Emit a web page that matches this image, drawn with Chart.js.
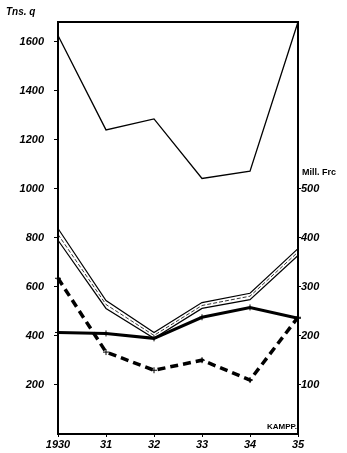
<!DOCTYPE html>
<html>
<head>
<meta charset="utf-8">
<script src="https://cdn.jsdelivr.net/npm/chart.js@4.4.1/dist/chart.umd.min.js"></script>
<style>
html,body{margin:0;padding:0;background:#fff;}
#wrap{width:347px;height:453px;position:relative;}
</style>
</head>
<body>
<div id="wrap"><canvas id="c" width="347" height="453"></canvas></div>
<script>
// ---- data ----
const years = ['1930', '31', '32', '33', '34', '35'];
const leftTicks = [200, 400, 600, 800, 1000, 1200, 1400, 1600];   // Tns. q
const rightTicks = [100, 200, 300, 400, 500];                      // Mill. Frc
// thin line (Tns. q)
const quantityThin = [1625, 1240, 1285, 1042, 1072, 1680];
// thick dashed line (Tns. q)
const quantityDashed = [635, 334, 260, 301, 220, 476];
// double band (Mill. Frc): upper edge, middle dashed, lower edge
const valueBandUpper = [419, 272, 207, 268, 287, 378];
const valueBandMid = [407, 264, 201, 262, 281, 371];
const valueBandLower = [395, 256, 195, 256, 274, 364];
// thick solid line (Mill. Frc)
const valueThick = [207, 205, 195, 238, 258, 236];

const leftMax = 1680;
const rightMax = leftMax / 2;

const tickFont = {family: 'Liberation Sans', size: 11, style: 'italic', weight: 'bold'};

const framePlugin = {
  id: 'frame',
  afterDraw(chart) {
    const {ctx, chartArea: a} = chart;
    ctx.save();
    ctx.strokeStyle = '#000';
    ctx.lineWidth = 2;
    ctx.strokeRect(a.left, a.top, a.right - a.left, a.bottom - a.top);
    ctx.fillStyle = '#000';
    ctx.font = 'italic bold 10px "Liberation Sans"';
    ctx.textBaseline = 'middle';
    ctx.textAlign = 'left';
    ctx.fillText('Tns. q', 6, 12);
    ctx.font = 'bold 9px "Liberation Sans"';
    ctx.fillText('Mill. Frc', 302, 173);
    ctx.textAlign = 'right';
    ctx.font = 'bold 8px "Liberation Sans"';
    ctx.fillText('KAMPP.', a.right - 1, a.bottom - 7);
    ctx.restore();
  }
};

const crossPts = {pointStyle: 'cross', pointRadius: 3, pointBorderWidth: 1, pointBorderColor: '#000'};

new Chart(document.getElementById('c'), {
  type: 'line',
  data: {
    labels: years,
    datasets: [
      {data: quantityThin, yAxisID: 'y', borderColor: '#000', borderWidth: 1.3, pointRadius: 0, tension: 0},
      {data: valueBandUpper, yAxisID: 'y1', borderColor: '#000', borderWidth: 1.2, pointRadius: 0, tension: 0},
      {data: valueBandLower, yAxisID: 'y1', borderColor: '#000', borderWidth: 1.2, pointRadius: 0, tension: 0},
      {data: valueBandMid, yAxisID: 'y1', borderColor: '#333', borderWidth: 1, borderDash: [4, 2], pointRadius: 0, tension: 0},
      Object.assign({data: valueThick, yAxisID: 'y1', borderColor: '#000', borderWidth: 3, tension: 0}, crossPts),
      Object.assign({data: quantityDashed, yAxisID: 'y', borderColor: '#000', borderWidth: 3.5, borderDash: [8, 5], tension: 0}, crossPts)
    ]
  },
  options: {
    responsive: false,
    animation: false,
    clip: false,
    layout: {padding: {top: 22, left: 0, right: 0, bottom: 0}},
    plugins: {legend: {display: false}, tooltip: {enabled: false}},
    scales: {
      x: {
        type: 'category',
        offset: false,
        grid: {display: true, drawOnChartArea: false, tickLength: 3, color: '#000'},
        border: {display: true, color: '#000', width: 2},
        ticks: {color: '#000', font: tickFont, padding: 1, maxRotation: 0, autoSkip: false},
        afterFit(s) { s.height = 19; }
      },
      y: {
        position: 'left',
        min: 0, max: leftMax,
        grid: {display: true, drawOnChartArea: false, tickLength: 4, color: '#000'},
        border: {display: true, color: '#000', width: 2},
        ticks: {color: '#000', font: tickFont, padding: 10, callback: v => String(v)},
        afterBuildTicks(s) { s.ticks = leftTicks.map(v => ({value: v})); },
        afterFit(s) { s.width = 58; }
      },
      y1: {
        position: 'right',
        min: 0, max: rightMax,
        grid: {display: true, drawOnChartArea: false, tickLength: 3, color: '#000'},
        border: {display: true, color: '#000', width: 2},
        ticks: {color: '#000', font: tickFont, padding: 0, callback: v => String(v)},
        afterBuildTicks(s) { s.ticks = rightTicks.map(v => ({value: v})); },
        afterFit(s) { s.width = 49; }
      }
    }
  },
  plugins: [framePlugin]
});
</script>
</body>
</html>
